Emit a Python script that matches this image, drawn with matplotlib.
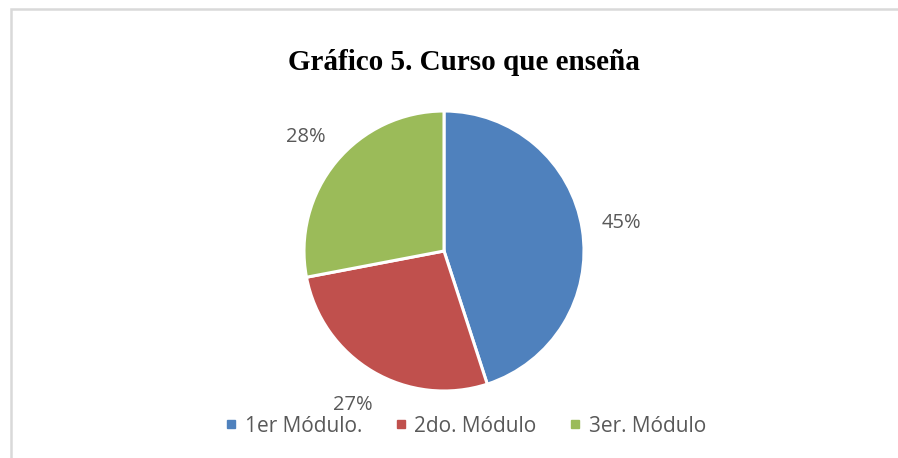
import matplotlib
matplotlib.use('Agg')
import matplotlib.pyplot as plt
from matplotlib.patches import Rectangle
from matplotlib.lines import Line2D

# data
categories = ['1er Módulo.', '2do. Módulo', '3er. Módulo']
shares = [45, 27, 28]
colors = ['#4F81BD', '#C0504D', '#9BBB59']
title = 'Gráfico 5. Curso que enseña'

W, H = 898, 458
fig = plt.figure(figsize=(W / 100, H / 100), dpi=100)
fig.patch.set_facecolor('white')

# light grey chart frame (bleeds off right/bottom)
fig.add_artist(Rectangle((10.5 / W, -0.1), 1.2, (H - 9.5) / H + 0.1,
                         transform=fig.transFigure, fill=False,
                         edgecolor='#d9d9d9', linewidth=1.8))

cx, cy, r = 444, 251, 140
ax = fig.add_axes([(cx - r) / W, (H - cy - r) / H, 2 * r / W, 2 * r / H])
wedges, _, pcts = ax.pie(shares, colors=colors, startangle=90, counterclock=False,
                         radius=1, autopct='%1.0f%%', pctdistance=1.28,
                         wedgeprops=dict(edgecolor='white', linewidth=2.2),
                         textprops=dict(family='Open Sans', fontsize=14.5, color='#595959'))
for t in pcts:
    t.set_clip_on(False)
ax.set_xlim(-1, 1)
ax.set_ylim(-1, 1)
ax.set_aspect('equal')
ax.axis('off')

fig.text(464 / W, 1 - 62 / H, title, ha='center', va='center',
         family='Liberation Serif', fontweight='bold', fontsize=21, color='black')

handles = [Line2D([], [], marker='s', linestyle='none', markersize=5.5,
                  markerfacecolor=c, markeredgecolor=c) for c in colors]
fig.legend(handles, categories, loc='center', bbox_to_anchor=(466 / W, 1 - 426 / H),
           ncol=3, frameon=False, handlelength=0.5, handletextpad=0.4,
           columnspacing=1.6, prop=dict(family='Open Sans', size=15),
           labelcolor='#595959')

fig.savefig('out.png', dpi=100)
